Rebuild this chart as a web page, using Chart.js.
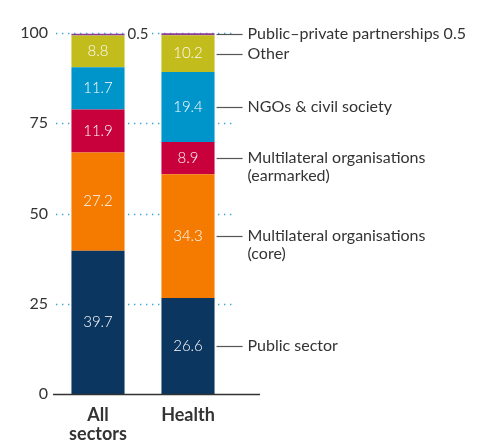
<!DOCTYPE html>
<html>
<head>
<meta charset="utf-8">
<script src="https://cdn.jsdelivr.net/npm/chart.js@4.4.1/dist/chart.umd.min.js"></script>
<style>
  html, body { margin: 0; padding: 0; background: #fff; }
  #wrap { width: 483px; height: 441px; }
</style>
</head>
<body>
<div id="wrap"><canvas id="chart" width="483" height="441"></canvas></div>
<script>
const categories = [["All", "sectors"], "Health"];
const yTicks = [0, 25, 50, 75, 100];

const publicSector = [39.7, 26.6];
const multilateralCore = [27.2, 34.3];
const multilateralEarmarked = [11.9, 8.9];
const ngosCivilSociety = [11.7, 19.4];
const other = [8.8, 10.2];
const publicPrivate = [0.5, 0.5];

const seriesNames = [
  ["Public sector"],
  ["Multilateral organisations", "(core)"],
  ["Multilateral organisations", "(earmarked)"],
  ["NGOs & civil society"],
  ["Other"],
  ["Public\u2013private partnerships 0.5"],
];
const seriesColors = ["#0b3660", "#f47a00", "#c8003c", "#0095ca", "#c2bc1c", "#8e3b98"];

const FONT = "Lato";
const TEXT = "#333333";

// dotted gridlines + baseline
const gridPlugin = {
  id: "grid",
  beforeDatasetsDraw(chart) {
    const { ctx, chartArea, scales } = chart;
    ctx.save();
    ctx.strokeStyle = "#3ba8d6";
    ctx.lineWidth = 1.4;
    ctx.setLineDash([1.4, 4.6]);
    yTicks.forEach(v => {
      if (v === 0) return;
      const y = Math.round(scales.y.getPixelForValue(v)) + 0.5;
      ctx.beginPath();
      ctx.moveTo(chartArea.left + 3, y);
      ctx.lineTo(chartArea.right, y);
      ctx.stroke();
    });
    ctx.restore();
  },
  afterDatasetsDraw(chart) {
    const { ctx, chartArea, scales } = chart;
    ctx.save();
    ctx.strokeStyle = "#333";
    ctx.lineWidth = 1.5;
    const y = scales.y.getPixelForValue(0) + 0.5;
    ctx.beginPath();
    ctx.moveTo(chartArea.left, y);
    ctx.lineTo(chartArea.right + 27, y);
    ctx.stroke();
    ctx.restore();
  },
};

// values inside bars, 0.5 note, labels on the right
const labelPlugin = {
  id: "labels",
  afterDatasetsDraw(chart) {
    const { ctx, scales } = chart;
    ctx.save();
    ctx.textBaseline = "middle";
    chart.data.datasets.forEach((ds, di) => {
      const meta = chart.getDatasetMeta(di);
      meta.data.forEach((bar, i) => {
        const v = ds.data[i];
        const mid = (bar.y + bar.base) / 2;
        if (di < 5) {
          ctx.fillStyle = "#fbfbfb";
          ctx.font = "300 15px " + FONT;
          ctx.textAlign = "center";
          ctx.fillText(v.toFixed(1), bar.x, mid);
        } else if (i === 0) {
          // small label next to the thin slice on the first bar
          const tx = bar.x + bar.width / 2 + 3;
          ctx.font = "15px " + FONT;
          ctx.textAlign = "left";
          const w = ctx.measureText(v.toFixed(1)).width;
          ctx.fillStyle = "#fff";
          ctx.fillRect(tx - 1, mid - 8, w + 3, 16);
          ctx.fillStyle = TEXT;
          ctx.fillText(v.toFixed(1), tx, mid);
        }
        // right-hand labels for the last bar
        if (i === 1) {
          const x0 = bar.x + bar.width / 2 + 2;
          ctx.strokeStyle = "#555";
          ctx.lineWidth = 1.2;
          ctx.beginPath();
          ctx.moveTo(x0, Math.round(mid) + 0.5);
          ctx.lineTo(x0 + 26, Math.round(mid) + 0.5);
          ctx.stroke();
          ctx.fillStyle = TEXT;
          ctx.font = "16px " + FONT;
          ctx.textAlign = "left";
          seriesNames[di].forEach((line, li) => {
            ctx.fillText(line, x0 + 31, mid + li * 18);
          });
        }
      });
    });
    ctx.restore();
  },
};

const datasets = [publicSector, multilateralCore, multilateralEarmarked, ngosCivilSociety, other, publicPrivate]
  .map((data, i) => ({
    label: seriesNames[i].join(" "),
    data: data,
    backgroundColor: seriesColors[i],
    borderWidth: 0,
    barPercentage: 0.59,
    categoryPercentage: 1,
  }));

new Chart(document.getElementById("chart"), {
  type: "bar",
  data: { labels: categories, datasets: datasets },
  options: {
    responsive: false,
    animation: false,
    layout: { padding: { top: 33, right: 250, left: 0, bottom: 0 } },
    plugins: { legend: { display: false }, tooltip: { enabled: false } },
    scales: {
      x: {
        stacked: true,
        grid: { display: false },
        border: { display: false },
        ticks: {
          color: TEXT,
          padding: 3,
          font: { family: FONT, size: 18, weight: "bold", lineHeight: 1.08 },
        },
        afterFit: s => { s.height = 47; },
      },
      y: {
        stacked: true,
        min: 0,
        max: 100,
        grid: { display: false, drawTicks: false },
        border: { display: false },
        ticks: {
          stepSize: 25,
          padding: 5,
          color: TEXT,
          font: { family: FONT, size: 16 },
        },
        afterFit: s => { s.width = 53; },
      },
    },
  },
  plugins: [gridPlugin, labelPlugin],
});
</script>
</body>
</html>
